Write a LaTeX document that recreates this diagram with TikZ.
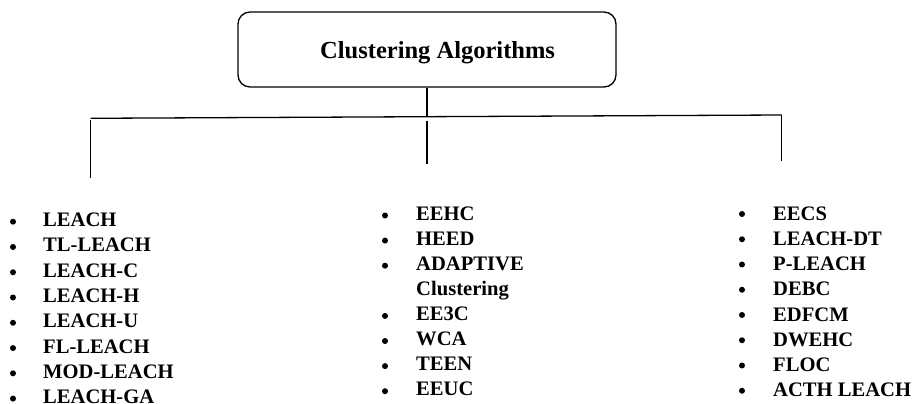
\documentclass[tikz,border=0pt]{standalone}
\usepackage{fontspec}
\setmainfont{Liberation Serif}
\begin{document}
\begin{tikzpicture}[x=1pt,y=-1pt,
  rootbox/.style={draw, line width=1.3pt, rounded corners=12pt, minimum width=378pt, minimum height=75pt, inner sep=0pt},
  titletext/.style={anchor=base west, inner sep=0pt, font=\fontsize{24.5}{28}\selectfont\bfseries},
  item/.style={anchor=base west, inner sep=0pt, font=\fontsize{20.6}{24}\selectfont\bfseries},
  dot/.style={circle, fill, minimum size=6pt, inner sep=0pt},
  link/.style={line width=1.3pt}]
\useasboundingbox (0,0) rectangle (916,404);

% root box and its title
\node[rootbox] (root) at (427,49.5) {};
\node[titletext] (title) at (320,58.3) {Clustering Algorithms};

% trunk and branches
\coordinate (hub) at (427,116.5);
\coordinate (hl) at (90.7,118.3);
\coordinate (hr) at (781.7,115);
\coordinate (lt) at (90.7,120);
\coordinate (lb) at (90.7,177.7);
\coordinate (mt) at (427,120.7);
\coordinate (mb) at (427,164);
\coordinate (rt) at (781.5,115);
\coordinate (rb) at (781.5,161);
\draw[link] (root.south) -- (hub);
\draw[link] (hl) -- (hr);
\draw[link] (lt) -- (lb);
\draw[link] (mt) -- (mb);
\draw[link] (rt) -- (rb);

% left list
\foreach \t [count=\i] in {LEACH,TL-LEACH,LEACH-C,LEACH-H,LEACH-U,FL-LEACH,MOD-LEACH,LEACH-GA}{
  \node[item] (l\i) at (43,{226.7+(\i-1)*25.27}) {\t};
  \node[dot] (lb\i) at (13,{221.7+(\i-1)*25.27}) {};
}

% middle list
\foreach \t/\b [count=\i] in {EEHC/1,HEED/1,ADAPTIVE/1,Clustering/0,EE3C/1,WCA/1,TEEN/1,EEUC/1}{
  \node[item] (m\i) at (416,{220+(\i-1)*25.1}) {\t};
  \ifnum\b=1 \node[dot] (mb\i) at (385,{215.5+(\i-1)*25.1}) {};\fi
}

% right list
\foreach \t [count=\i] in {EECS,LEACH-DT,P-LEACH,DEBC,EDFCM,DWEHC,FLOC,ACTH LEACH}{
  \node[item] (r\i) at (773,{220+(\i-1)*25.25}) {\t};
  \node[dot] (rb\i) at (742,{214+(\i-1)*25.25}) {};
}
\end{tikzpicture}
\end{document}
